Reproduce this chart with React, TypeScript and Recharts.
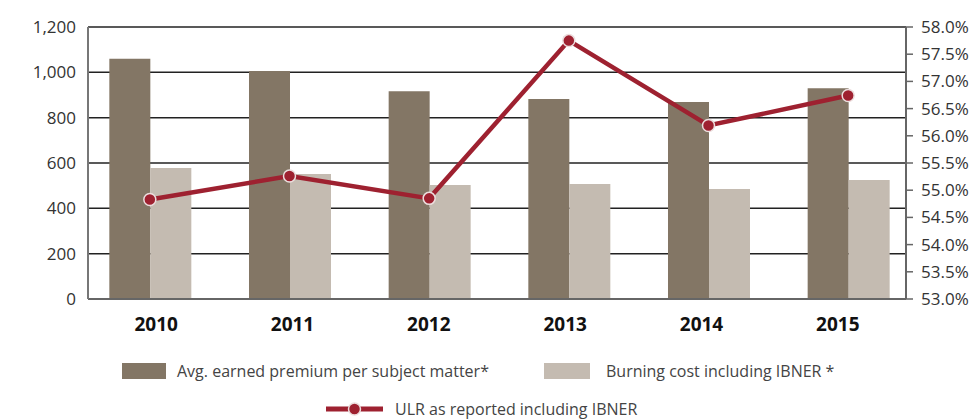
import { ComposedChart, Bar, Line, XAxis, YAxis, CartesianGrid } from 'recharts';

const years = ['2010', '2011', '2012', '2013', '2014', '2015'];
const avgPremium = [1060, 1006, 917, 882, 869, 930];
const burningCost = [578, 551, 503, 507, 485, 525];
const ulr = [54.83, 55.26, 54.85, 57.75, 56.19, 56.74];

const leftTicks = [0, 200, 400, 600, 800, 1000, 1200];
const rightTicks = [53, 53.5, 54, 54.5, 55, 55.5, 56, 56.5, 57, 57.5, 58];
const frameTicks = [0, 1, 2, 3, 4, 5, 6];

const data = years.map((year, i) => ({
    year,
    idx: i + 0.5,
    avgPremium: avgPremium[i],
    burningCost: burningCost[i],
    ulr: ulr[i],
}));

const DARK = '#837665';
const LIGHT = '#c4bbb1';
const RED = '#9e2130';
const FONT = '"Open Sans", sans-serif';

export default function App() {
    return (
        <div style={{ position: 'relative', width: 961, height: 411, fontFamily: FONT }}>
            <ComposedChart
                width={961}
                height={340}
                data={data}
                margin={{ top: 19, right: 0, left: 0, bottom: 8 }}
                barCategoryGap="21%"
                barGap={0}
            >
                <CartesianGrid
                    horizontal
                    vertical={false}
                    stroke="#222"
                    strokeWidth={1.5}
                    xAxisId="labels"
                    yAxisId="left"
                />
                {/* tick marks sit on the category boundaries, so they get their own axis */}
                <XAxis
                    xAxisId="frame"
                    dataKey="idx"
                    type="number"
                    domain={[0, 6]}
                    ticks={frameTicks}
                    allowDataOverflow
                    tick={false}
                    tickSize={8}
                    height={1}
                    axisLine={{ stroke: '#666', strokeWidth: 2 }}
                    tickLine={{ stroke: '#666', strokeWidth: 2 }}
                />
                <XAxis
                    xAxisId="labels"
                    dataKey="year"
                    height={40}
                    axisLine={false}
                    tickLine={false}
                    tickSize={0}
                    tickMargin={18}
                    tick={{ fill: '#111', fontSize: 19, fontWeight: 700, fontFamily: FONT }}
                />
                <XAxis
                    xAxisId="data"
                    dataKey="year"
                    hide
                    height={0}
                    padding={{ left: -8, right: -12 }}
                />
                <YAxis
                    yAxisId="left"
                    width={80}
                    domain={[0, 1200]}
                    ticks={leftTicks}
                    tickFormatter={(v: number) => v.toLocaleString('en-US')}
                    axisLine={{ stroke: '#777', strokeWidth: 2 }}
                    tickLine={false}
                    tickSize={0}
                    tickMargin={12}
                    tick={{ fill: '#333', fontSize: 17, fontFamily: FONT }}
                />
                <YAxis
                    yAxisId="right"
                    orientation="right"
                    width={63}
                    domain={[53, 58]}
                    ticks={rightTicks}
                    tickFormatter={(v: number) => `${v.toFixed(1)}%`}
                    axisLine={{ stroke: '#666', strokeWidth: 2 }}
                    tickLine={{ stroke: '#666', strokeWidth: 1.5 }}
                    tickSize={7}
                    tickMargin={8}
                    tick={{ fill: '#333', fontSize: 17, fontFamily: FONT }}
                />
                <Bar xAxisId="data" yAxisId="left" dataKey="avgPremium" fill={DARK} isAnimationActive={false} />
                <Bar xAxisId="data" yAxisId="left" dataKey="burningCost" fill={LIGHT} isAnimationActive={false} />
                <Line
                    xAxisId="data"
                    yAxisId="right"
                    dataKey="ulr"
                    stroke={RED}
                    strokeWidth={4.5}
                    dot={{ r: 6, fill: RED, stroke: '#ecdede', strokeWidth: 1.5 }}
                    isAnimationActive={false}
                />
            </ComposedChart>

            <div style={{ position: 'absolute', left: 114, top: 355, width: 44, height: 16, background: DARK }} />
            <div style={{ position: 'absolute', left: 169, top: 351, fontSize: 16, color: '#444', lineHeight: '24px', whiteSpace: 'nowrap' }}>
                Avg. earned premium per subject matter*
            </div>
            <div style={{ position: 'absolute', left: 536, top: 355, width: 46, height: 16, background: LIGHT }} />
            <div style={{ position: 'absolute', left: 598, top: 351, fontSize: 16, color: '#444', lineHeight: '24px', whiteSpace: 'nowrap' }}>
                Burning cost including IBNER *
            </div>
            <svg style={{ position: 'absolute', left: 318, top: 393 }} width={60} height={16}>
                <line x1={0} y1={8} x2={57} y2={8} stroke={RED} strokeWidth={5} />
                <circle cx={28.5} cy={8} r={6} fill={RED} stroke="#ecdede" strokeWidth={1.5} />
            </svg>
            <div style={{ position: 'absolute', left: 387, top: 389, fontSize: 16, color: '#444', lineHeight: '24px', whiteSpace: 'nowrap' }}>
                ULR as reported including IBNER
            </div>
        </div>
    );
}
